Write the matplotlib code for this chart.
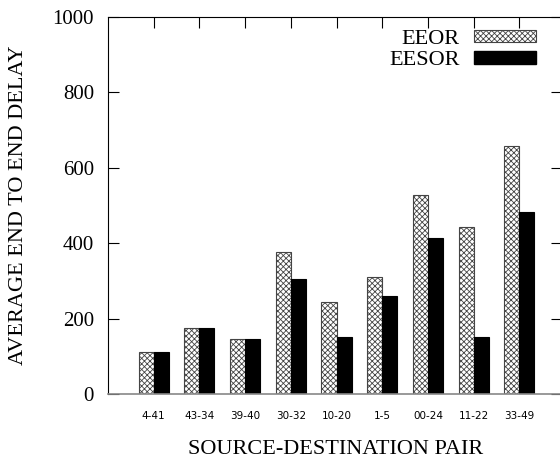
import numpy as np
import matplotlib
matplotlib.use("Agg")
import matplotlib.pyplot as plt
from matplotlib.patches import Patch

pairs = ["4-41", "43-34", "39-40", "30-32", "10-20", "1-5", "00-24", "11-22", "33-49"]
eeor = [112, 174, 145, 377, 243, 311, 527, 444, 658]
eesor = [112, 174, 145, 304, 151, 260, 415, 151, 483]

plt.rcParams["font.family"] = ["Liberation Serif", "DejaVu Serif"]
plt.rcParams["hatch.linewidth"] = 0.6
plt.rcParams["hatch.color"] = "black"


def plot_delay(out_path="out.png"):
    fig = plt.figure(figsize=(5.6, 4.59), dpi=100)
    ax = fig.add_axes([108 / 560, 65 / 459, 454 / 560, 377 / 459])

    x = np.arange(1, len(pairs) + 1)
    w = 0.33
    ax.bar(x - w / 2, eeor, w, color="white", edgecolor="#444444",
           linewidth=0.8, hatch="xxxxxx", label="EEOR", zorder=2)
    ax.bar(x + w / 2, eesor, w, color="black", edgecolor="black",
           linewidth=0.8, label="EESOR", zorder=2)

    ax.set_xlim(0, 454 / 45.7)
    ax.set_ylim(0, 1000)
    ax.set_yticks(range(0, 1001, 200))
    ax.set_xticks(x)
    ax.set_xticklabels(pairs, fontsize=7.5, family="DejaVu Sans")
    ax.tick_params(axis="y", direction="in", length=8, width=0.8,
                   labelsize=15, right=True, pad=10)
    ax.tick_params(axis="x", direction="in", length=8, width=0.8,
                   top=True, bottom=False, pad=12)

    for s in ["top", "left", "right"]:
        ax.spines[s].set_linewidth(0.8)
    ax.spines["bottom"].set_color("#888888")
    ax.spines["bottom"].set_linewidth(1.2)

    ax.set_xlabel("SOURCE-DESTINATION PAIR", fontsize=16)
    ax.set_ylabel("AVERAGE END TO END DELAY", fontsize=16)
    ax.xaxis.set_label_coords(0.502, -0.146)
    ax.xaxis.label.set_va("center")
    ax.yaxis.set_label_coords(-0.198, 0.5)
    ax.yaxis.label.set_va("center")

    # legend: text on the left, sample on the right (gnuplot style)
    handles = [Patch(facecolor="white", edgecolor="#444444", hatch="xxxxxx", linewidth=0.8),
               Patch(facecolor="black", edgecolor="black")]
    ax.legend(handles, ["EEOR", "EESOR"], loc="upper right",
              bbox_to_anchor=(0.943, 0.966), frameon=False, markerfirst=False,
              fontsize=16, handlelength=2.8, handleheight=0.5,
              borderpad=0, borderaxespad=0, labelspacing=0.1, handletextpad=0.63)

    fig.savefig(out_path, dpi=100)


if __name__ == "__main__":
    plot_delay()
